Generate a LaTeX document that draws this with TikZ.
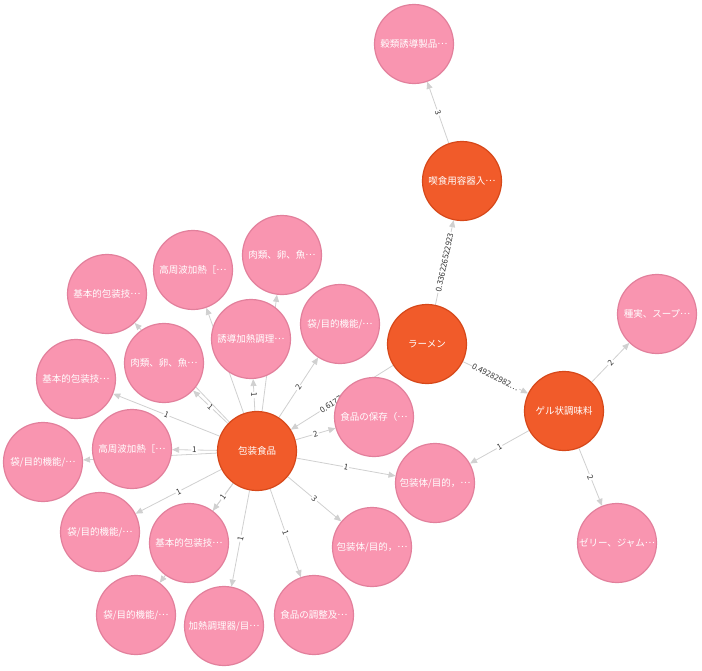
\documentclass[tikz,border=0pt]{standalone}
\usepackage{fontspec}
\setmainfont{Noto Sans CJK JP}
\usetikzlibrary{arrows.meta}
\pgfdeclarelayer{bg}
\pgfsetlayers{bg,main}
\definecolor{hubfill}{RGB}{241,91,42}
\definecolor{hubline}{RGB}{214,72,26}
\definecolor{leaffill}{RGB}{249,149,176}
\definecolor{leafline}{RGB}{226,128,156}
\definecolor{edgec}{RGB}{208,208,208}
\definecolor{labc}{RGB}{51,51,51}
\newcommand\mell{\raisebox{0.3em}{…}}
\tikzset{
  basenode/.style={circle, minimum size=79pt, inner sep=0pt, line width=1.2pt, text=white, font=\fontsize{9.5}{11}\selectfont},
  hub/.style={basenode, fill=hubfill, draw=hubline},
  leaf/.style={basenode, fill=leaffill, draw=leafline},
  edge/.style={draw=edgec, line width=0.8pt, -{Triangle[length=7pt,width=6pt]}},
  elab/.style={font=\fontsize{8}{9}\selectfont, text=labc, fill=white, inner sep=1pt, sloped, midway}
}
\begin{document}
\begin{tikzpicture}[x=1pt,y=-1pt]
\useasboundingbox (0,0) rectangle (702,670);
\node[leaf] (A) at (414,44) {穀類誘導製品\mell};
\node[hub]  (B) at (462,181) {喫食用容器入\mell};
\node[hub]  (C) at (427,344) {ラーメン};
\node[hub]  (D) at (564,411) {ゲル状調味料};
\node[leaf] (E) at (657,314) {種実、スープ\mell};
\node[leaf] (F) at (617,543) {ゼリー、ジャム\mell};
\node[hub]  (G) at (257,451) {包装食品};
\node[leaf] (H) at (374,417) {食品の保存（\mell};
\node[leaf] (I) at (435,483) {包装体/目的，\mell};
\node[leaf] (J) at (372,547) {包装体/目的，\mell};
\node[leaf] (K) at (314,615) {食品の調整及\mell};
\node[leaf] (L) at (224,626) {加熱調理器/目\mell};
\node[leaf] (M) at (136,615) {袋/目的機能/\mell};
\node[leaf] (N) at (189,543) {基本的包装技\mell};
\node[leaf] (O) at (100,532) {袋/目的機能/\mell};
\node[leaf] (P) at (43,462) {袋/目的機能/\mell};
\node[leaf] (Q) at (132,449) {高周波加熱［\mell};
\node[leaf] (R) at (76,379) {基本的包装技\mell};
\node[leaf] (S) at (164,363) {肉類、卵、魚\mell};
\node[leaf] (T) at (107,294) {基本的包装技\mell};
\node[leaf] (U) at (193,270) {高周波加熱［\mell};
\node[leaf] (V) at (251,339) {誘導加熱調理\mell};
\node[leaf] (W) at (282,255) {肉類、卵、魚\mell};
\node[leaf] (X) at (340,324) {袋/目的機能/\mell};
\begin{pgfonlayer}{bg}
\draw[edge] (B) -- node[elab]{3} (A);
\draw[edge] (C) -- node[elab]{0.336226522923} (B);
\draw[edge] (C) -- node[elab]{0.49282982…} (D);
\draw[edge] (C) -- node[elab]{0.61772513…} (G);
\draw[edge] (D) -- node[elab]{2} (E);
\draw[edge] (D) -- node[elab]{2} (F);
\draw[edge] (D) -- node[elab]{1} (I);
\draw[edge] (G) -- node[elab]{2} (H);
\draw[edge] (G) -- node[elab]{1} (I);
\draw[edge] (G) -- node[elab]{3} (J);
\draw[edge] (G) -- node[elab]{1} (K);
\draw[edge] (G) -- node[elab]{1} (L);
\draw[edge] (G) -- (M);
\draw[edge] (G) -- node[elab]{1} (N);
\draw[edge] (G) -- node[elab]{1} (O);
\draw[edge] (G) -- (P);
\draw[edge] (G) -- node[elab]{1} (Q);
\draw[edge] (G) -- node[elab]{1} (R);
\draw[edge] (G) -- node[elab]{1} (S);
\draw[edge] (G) -- (T);
\draw[edge] (G) -- (U);
\draw[edge] (G) -- node[elab]{1} (V);
\draw[edge] (G) -- (W);
\draw[edge] (G) -- node[elab]{2} (X);
\end{pgfonlayer}
\end{tikzpicture}
\end{document}
